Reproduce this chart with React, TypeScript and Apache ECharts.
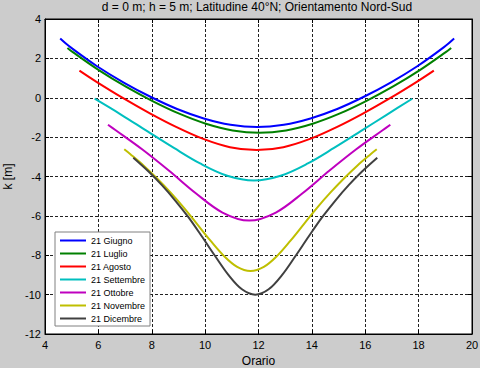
import React, { useEffect, useRef } from "react";
import * as echarts from "echarts";

const FONT = "Liberation Sans, Arial, Helvetica, sans-serif";

const TITLE = "d = 0 m; h = 5 m; Latitudine 40°N; Orientamento Nord-Sud";
const X_NAME = "Orario";
const Y_NAME = "k [m]";

const seriesNames = [
  "21 Giugno",
  "21 Luglio",
  "21 Agosto",
  "21 Settembre",
  "21 Ottobre",
  "21 Novembre",
  "21 Dicembre",
];
const seriesColors = ["#0000ff", "#008000", "#ff0000", "#00bfbf", "#bf00bf", "#bfbf00", "#404040"];

const hGiugno = [4.57, 4.95, 5.95, 6.95, 7.95, 8.95, 9.95, 10.95, 11.95, 12.95, 13.95, 14.95, 15.95, 16.95, 17.95, 18.95, 19.33];
const kGiugno = [3.01, 2.57, 1.6, 0.77, 0.05, -0.57, -1.05, -1.37, -1.49, -1.37, -1.05, -0.57, 0.05, 0.77, 1.6, 2.57, 3.01];

const hLuglio = [4.84, 5.03, 6.03, 7.03, 8.03, 9.03, 10.03, 11.03, 12.03, 13.03, 14.03, 15.03, 16.03, 17.03, 18.03, 19.03, 19.22];
const kLuglio = [2.53, 2.33, 1.39, 0.56, -0.17, -0.81, -1.32, -1.66, -1.78, -1.66, -1.32, -0.81, -0.17, 0.56, 1.39, 2.33, 2.53];

const hAgosto = [5.29, 5.93, 6.93, 7.93, 8.93, 9.93, 10.93, 11.93, 12.93, 13.93, 14.93, 15.93, 16.93, 17.93, 18.57];
const kAgosto = [1.38, 0.81, -0.02, -0.79, -1.49, -2.09, -2.51, -2.66, -2.51, -2.09, -1.49, -0.79, -0.02, 0.81, 1.38];

const hSettembre = [5.86, 6.83, 7.83, 8.83, 9.83, 10.83, 11.83, 12.83, 13.83, 14.83, 15.83, 16.83, 17.76];
const kSettembre = [-0.05, -0.84, -1.7, -2.55, -3.35, -3.96, -4.2, -3.96, -3.35, -2.55, -1.7, -0.84, -0.05];

const hOttobre = [6.36, 6.65, 7.65, 8.65, 9.65, 10.65, 11.65, 12.65, 13.65, 14.65, 15.65, 16.65, 16.94];
const kOttobre = [-1.37, -1.65, -2.63, -3.71, -4.85, -5.83, -6.24, -5.83, -4.85, -3.71, -2.63, -1.65, -1.37];

const hNovembre = [6.97, 7.2, 7.7, 8.2, 8.7, 9.2, 9.7, 10.2, 10.7, 11.2, 11.7, 12.2, 12.7, 13.2, 13.7, 14.2, 14.7, 15.2, 15.7, 16.2, 16.43];
const kNovembre = [-2.62, -2.87, -3.45, -4.1, -4.81, -5.58, -6.42, -7.26, -8.03, -8.59, -8.8, -8.59, -8.03, -7.26, -6.42, -5.58, -4.81, -4.1, -3.45, -2.87, -2.62];

const hDicembre = [7.31, 7.88, 8.38, 8.88, 9.38, 9.88, 10.38, 10.88, 11.38, 11.88, 12.38, 12.88, 13.38, 13.88, 14.38, 14.88, 15.38, 15.88, 16.45];
const kDicembre = [-3.05, -3.75, -4.44, -5.22, -6.08, -7.05, -8.05, -9.01, -9.73, -10.0, -9.73, -9.01, -8.05, -7.05, -6.08, -5.22, -4.44, -3.75, -3.05];

const allHours = [hGiugno, hLuglio, hAgosto, hSettembre, hOttobre, hNovembre, hDicembre];
const allK = [kGiugno, kLuglio, kAgosto, kSettembre, kOttobre, kNovembre, kDicembre];

const X_MIN = 4, X_MAX = 20, X_STEP = 2;
const Y_MIN = -12, Y_MAX = 4, Y_STEP = 2;

function buildOption(): any {
  const gridLine = { show: true, lineStyle: { color: "#222", type: [3, 2], width: 1 } };
  const tick = { show: true, inside: true, length: 4, lineStyle: { color: "#000" } };
  const line = { show: true, onZero: false, lineStyle: { color: "#000", width: 1 } };
  const label = { color: "#000", fontSize: 11, fontFamily: FONT, showMinLabel: true, showMaxLabel: true };

  return {
    animation: false,
    backgroundColor: "#cccccc",
    title: {
      text: TITLE,
      left: 257,
      textAlign: "center",
      top: 1,
      padding: 0,
      textStyle: { color: "#000", fontSize: 12, fontWeight: "normal", fontFamily: FONT },
    },
    grid: {
      left: 45,
      top: 19,
      width: 427,
      height: 315,
      containLabel: false,
      outerBoundsMode: "none",
      show: true,
      backgroundColor: "#ffffff",
      borderColor: "#000",
      borderWidth: 1,
    },
    legend: {
      orient: "vertical",
      left: 55,
      top: 232,
      data: seriesNames,
      icon: "rect",
      itemWidth: 26,
      itemHeight: 2,
      itemGap: 0,
      padding: [2, 5, 1, 5],
      backgroundColor: "#ffffff",
      borderColor: "#808080",
      borderWidth: 1,
      textStyle: { color: "#000", fontSize: 9, lineHeight: 13, fontFamily: FONT },
    },
    xAxis: [
      {
        type: "value",
        min: X_MIN,
        max: X_MAX,
        interval: X_STEP,
        position: "bottom",
        axisLine: line,
        axisTick: tick,
        axisLabel: { ...label, margin: 5 },
        splitLine: gridLine,
        name: X_NAME,
        nameLocation: "middle",
        nameGap: 21,
        nameTextStyle: { color: "#000", fontSize: 12, fontFamily: FONT },
      },
      {
        type: "value",
        min: X_MIN,
        max: X_MAX,
        interval: X_STEP,
        position: "top",
        axisLine: line,
        axisTick: tick,
        axisLabel: { show: false },
        splitLine: { show: false },
      },
    ],
    yAxis: [
      {
        type: "value",
        min: Y_MIN,
        max: Y_MAX,
        interval: Y_STEP,
        position: "left",
        axisLine: line,
        axisTick: tick,
        axisLabel: { ...label, margin: 4 },
        splitLine: gridLine,
        name: Y_NAME,
        nameLocation: "middle",
        nameGap: 30,
        nameRotate: 90,
        nameTextStyle: { color: "#000", fontSize: 12, fontFamily: FONT },
      },
      {
        type: "value",
        min: Y_MIN,
        max: Y_MAX,
        interval: Y_STEP,
        position: "right",
        axisLine: line,
        axisTick: tick,
        axisLabel: { show: false },
        splitLine: { show: false },
      },
    ],
    series: seriesNames.map((name, i) => ({
      name,
      type: "line",
      xAxisIndex: 0,
      yAxisIndex: 0,
      data: allHours[i].map((h, j) => [h, allK[i][j]]),
      smooth: 0.35,
      symbol: "none",
      lineStyle: { color: seriesColors[i], width: 2 },
      itemStyle: { color: seriesColors[i] },
    })),
  };
}

export default function App() {
  const ref = useRef<HTMLDivElement>(null);
  useEffect(() => {
    if (!ref.current) return;
    const chart = echarts.init(ref.current, null, { renderer: "svg" });
    chart.setOption(buildOption());
    return () => chart.dispose();
  }, []);
  return (
    <div
      ref={ref}
      style={{ position: "fixed", left: 0, top: 0, width: 480, height: 368 }}
    />
  );
}
